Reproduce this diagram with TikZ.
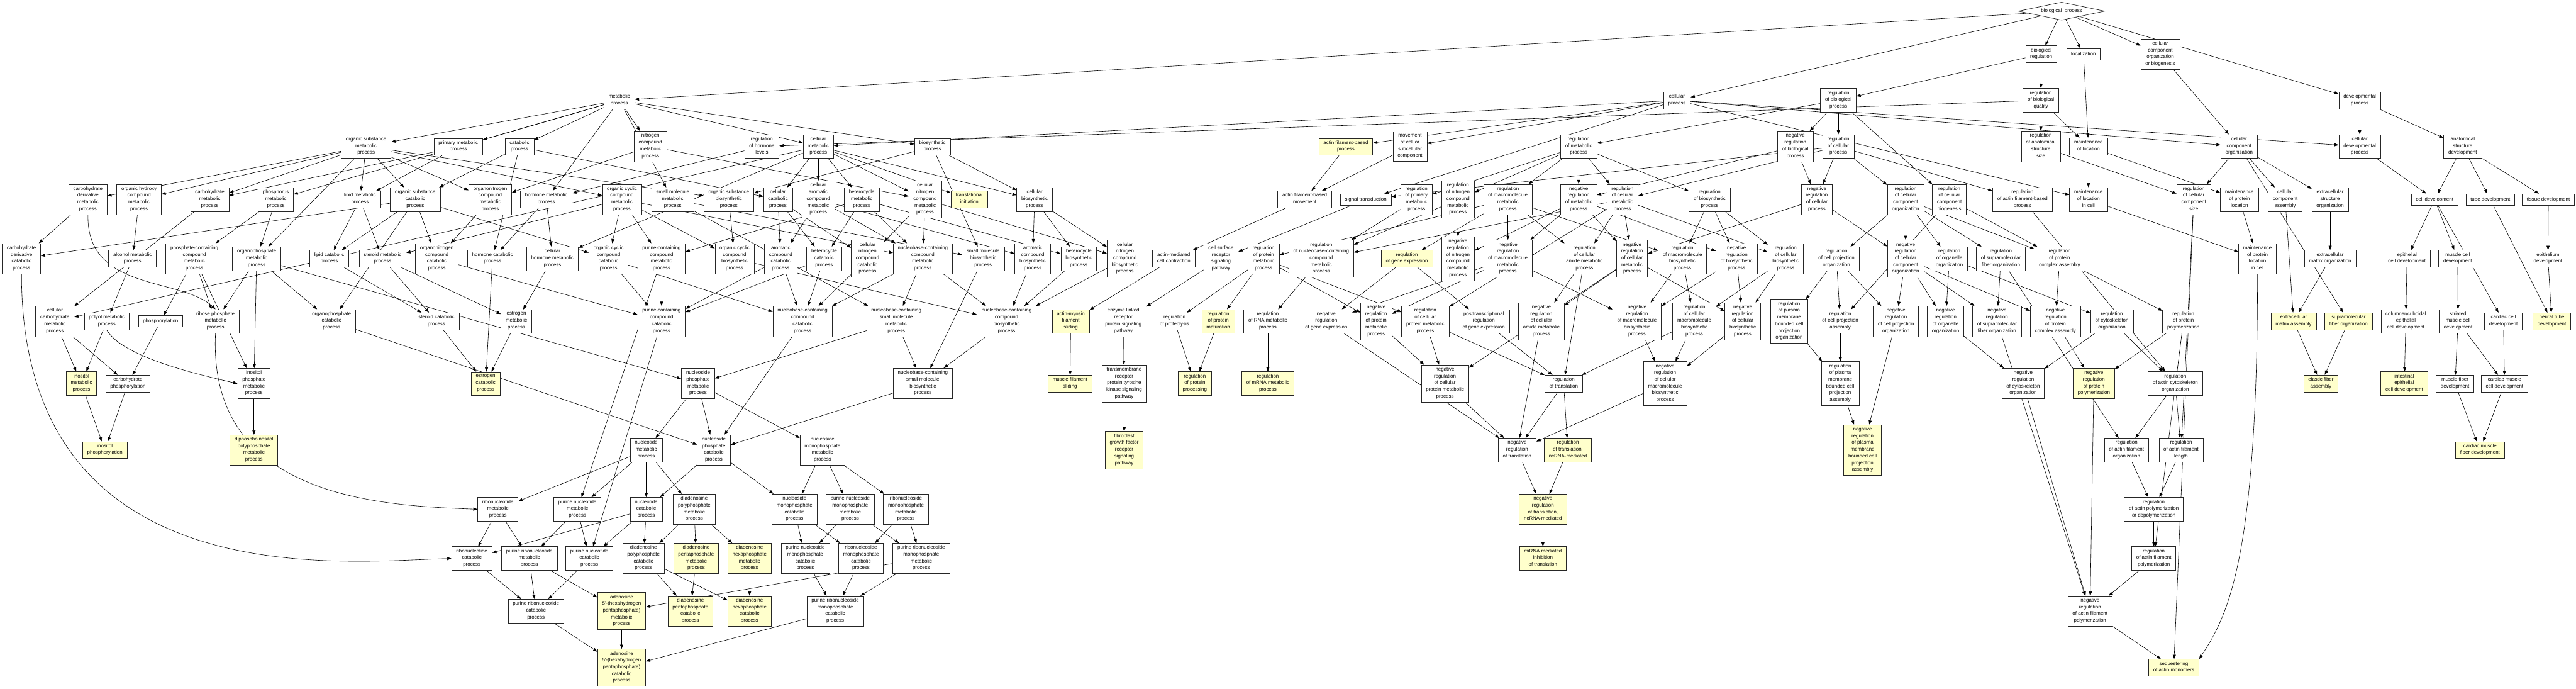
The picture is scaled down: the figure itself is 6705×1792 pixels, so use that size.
\documentclass[tikz,border=0pt]{standalone}
\usepackage{fontspec}
\setmainfont{Liberation Sans}
\usetikzlibrary{arrows.meta,shapes.geometric,backgrounds}
\definecolor{yl}{RGB}{255,255,204}
\begin{document}
\begin{tikzpicture}[x=1pt,y=-1pt,
 t/.style={draw=black!85, line width=1.2pt, fill=white, align=center, inner xsep=12pt, inner ysep=6pt,
   font=\fontsize{13}{17.5}\selectfont, execute at begin node=\strut, execute at end node=\strut},
 yb/.style={t, fill=yl},
 e/.style={-{Triangle[length=11pt,width=8pt]}, line width=1pt, black}]
\useasboundingbox (0,0) rectangle (6705,1792);
% ---------- top ----------
\node[draw=black!85, line width=1.2pt, fill=white, diamond, aspect=4.8, minimum width=225pt, minimum height=47pt, inner sep=0pt, font=\fontsize{13}{17.5}\selectfont] (bp) at (5366,29) {biological\_process};
\node[t] (breg) at (5313,141) {biological\\regulation};
\node[t] (loc) at (5423,141) {localization};
\node[t] (ccob) at (5623,141) {cellular\\component\\organization\\or biogenesis};
% ---------- row 261 ----------
\node[t] (met) at (1612,261) {metabolic\\process};
\node[t] (cp) at (4365,261) {cellular\\process};
\node[t] (rbp) at (4785,261) {regulation\\of biological\\process};
\node[t] (rbq) at (5312,261) {regulation\\of biological\\quality};
\node[t] (dev) at (6142,261) {developmental\\process};
% ---------- row 381 ----------
\node[t] (osm) at (953,381) {organic substance\\metabolic\\process};
\node[t] (prim) at (1193,382) {primary metabolic\\process};
\node[t] (cat) at (1352,382) {catabolic\\process};
\node[t] (ncm) at (1693,381) {nitrogen\\compound\\metabolic\\process};
\node[t] (rhl) at (1983,381) {regulation\\of hormone\\levels};
\node[t] (cellmet) at (2130,381) {cellular\\metabolic\\process};
\node[t] (bios) at (2427,382) {biosynthetic\\process};
\node[yb] (afbp) at (3503,382) {actin filament-based\\process};
\node[t] (mov) at (3670,381) {movement\\of cell or\\subcellular\\component};
\node[t] (rmp) at (4109,381) {regulation\\of metabolic\\process};
\node[t] (nrbp) at (4673,381) {negative\\regulation\\of biological\\process};
\node[t] (rcp) at (4785,381) {regulation\\of cellular\\process};
\node[t] (rass) at (5312,381) {regulation\\of anatomical\\structure\\size};
\node[t] (mloc) at (5436,381) {maintenance\\of location};
\node[t] (cco) at (5828,381) {cellular\\component\\organization};
\node[t] (cdp) at (6142,381) {cellular\\developmental\\process};
\node[t] (asd) at (6410,381) {anatomical\\structure\\development};
% ---------- row 519 ----------
\node[t] (cdm) at (229,519) {carbohydrate\\derivative\\metabolic\\process};
\node[t] (ohcm) at (362,519) {organic hydroxy\\compound\\metabolic\\process};
\node[t] (carbm) at (546,519) {carbohydrate\\metabolic\\process};
\node[t] (phom) at (718,519) {phosphorus\\metabolic\\process};
\node[t] (lipm) at (937,519) {lipid metabolic\\process};
\node[t] (oscat) at (1081,519) {organic substance\\catabolic\\process};
\node[t] (onm) at (1276,519) {organonitrogen\\compound\\metabolic\\process};
\node[t] (hormm) at (1422,519) {hormone metabolic\\process};
\node[t] (occm) at (1619,519) {organic cyclic\\compound\\metabolic\\process};
\node[t] (smm) at (1751,519) {small molecule\\metabolic\\process};
\node[t] (osbio) at (1897,519) {organic substance\\biosynthetic\\process};
\node[t] (ccat) at (2025,519) {cellular\\catabolic\\process};
\node[t] (cacm) at (2130,519) {cellular\\aromatic\\compound\\metabolic\\process};
\node[t] (hetm) at (2243,519) {heterocycle\\metabolic\\process};
\node[t] (cncm) at (2408,519) {cellular\\nitrogen\\compound\\metabolic\\process};
\node[yb] (transl) at (2523,519) {translational\\initiation};
\node[t] (cbio) at (2693,519) {cellular\\biosynthetic\\process};
\node[t] (afbm) at (3396,519) {actin filament-based\\movement};
\node[t] (sig) at (3555,519) {signal transduction};
\node[t] (rpmp) at (3687,519) {regulation\\of primary\\metabolic\\process};
\node[t] (rncm) at (3795,519) {regulation\\of nitrogen\\compound\\metabolic\\process};
\node[t] (rmmp) at (3925,519) {regulation\\of macromolecule\\metabolic\\process};
\node[t] (nrmp) at (4109,519) {negative\\regulation\\of metabolic\\process};
\node[t] (rcmp) at (4223,519) {regulation\\of cellular\\metabolic\\process};
\node[t] (rbio) at (4450,519) {regulation\\of biosynthetic\\process};
\node[t] (nrcp) at (4729,519) {negative\\regulation\\of cellular\\process};
\node[t] (rcco) at (4960,519) {regulation\\of cellular\\component\\organization};
\node[t] (rccb) at (5074,519) {regulation\\of cellular\\component\\biogenesis};
\node[t] (rafb) at (5264,519) {regulation\\of actin filament-based\\process};
\node[t] (mlocc) at (5436,519) {maintenance\\of location\\in cell};
\node[t] (rccs) at (5710,519) {regulation\\of cellular\\component\\size};
\node[t] (mpl) at (5829,519) {maintenance\\of protein\\location};
\node[t] (cca) at (5948,519) {cellular\\component\\assembly};
\node[t] (eso) at (6065,519) {extracellular\\structure\\organization};
\node[t] (celldev) at (6337,519) {cell development};
\node[t] (tubed) at (6482,519) {tube development};
\node[t] (tissd) at (6633,519) {tissue development};
% ---------- row 673 ----------
\node[t] (cdc) at (56,673) {carbohydrate\\derivative\\catabolic\\process};
\node[t] (alc) at (345,673) {alcohol metabolic\\process};
\node[t] (pcc) at (506,673) {phosphate-containing\\compound\\metabolic\\process};
\node[t] (opm) at (668,673) {organophosphate\\metabolic\\process};
\node[t] (lipc) at (857,673) {lipid catabolic\\process};
\node[t] (stm) at (996,673) {steroid metabolic\\process};
\node[t] (oncat) at (1137,673) {organonitrogen\\compound\\catabolic\\process};
\node[t] (hormc) at (1282,673) {hormone catabolic\\process};
\node[t] (chm) at (1438,673) {cellular\\hormone metabolic\\process};
\node[t] (occc) at (1584,673) {organic cyclic\\compound\\catabolic\\process};
\node[t] (pccm) at (1722,673) {purine-containing\\compound\\metabolic\\process};
\node[t] (occb) at (1912,673) {organic cyclic\\compound\\biosynthetic\\process};
\node[t] (acc) at (2032,673) {aromatic\\compound\\catabolic\\process};
\node[t] (hetc) at (2145,673) {heterocycle\\catabolic\\process};
\node[t] (cncc) at (2258,673) {cellular\\nitrogen\\compound\\catabolic\\process};
\node[t] (nbcm) at (2402,673) {nucleobase-containing\\compound\\metabolic\\process};
\node[t] (smb) at (2559,673) {small molecule\\biosynthetic\\process};
\node[t] (acb) at (2688,673) {aromatic\\compound\\biosynthetic\\process};
\node[t] (hetb) at (2808,673) {heterocycle\\biosynthetic\\process};
\node[t] (cncb) at (2928,673) {cellular\\nitrogen\\compound\\biosynthetic\\process};
\node[t] (amcc) at (3055,673) {actin-mediated\\cell contraction};
\node[t] (csr) at (3178,673) {cell surface\\receptor\\signaling\\pathway};
\node[t] (rprot) at (3289,673) {regulation\\of protein\\metabolic\\process};
\node[t] (rnbc) at (3439,673) {regulation\\of nucleobase-containing\\compound\\metabolic\\process};
\node[yb] (rge) at (3662,673) {regulation\\of gene expression};
\node[t] (nrncm) at (3795,673) {negative\\regulation\\of nitrogen\\compound\\metabolic\\process};
\node[t] (nrmm) at (3925,673) {negative\\regulation\\of macromolecule\\metabolic\\process};
\node[t] (rcam) at (4124,673) {regulation\\of cellular\\amide metabolic\\process};
\node[t] (nrcm) at (4248,673) {negative\\regulation\\of cellular\\metabolic\\process};
\node[t] (rmb) at (4379,673) {regulation\\of macromolecule\\biosynthetic\\process};
\node[t] (nrb) at (4520,673) {negative\\regulation\\of biosynthetic\\process};
\node[t] (rcb) at (4648,673) {regulation\\of cellular\\biosynthetic\\process};
\node[t] (rcpo) at (4780,673) {regulation\\of cell projection\\organization};
\node[t] (nrcco) at (4960,673) {negative\\regulation\\of cellular\\component\\organization};
\node[t] (roo) at (5074,673) {regulation\\of organelle\\organization};
\node[t] (rsfo) at (5208,673) {regulation\\of supramolecular\\fiber organization};
\node[t] (rpca) at (5361,673) {regulation\\of protein\\complex assembly};
\node[t] (mplc) at (5876,673) {maintenance\\of protein\\location\\in cell};
\node[t] (emo) at (6065,673) {extracellular\\matrix organization};
\node[t] (epcd) at (6265,673) {epithelial\\cell development};
\node[t] (mcd) at (6397,673) {muscle cell\\development};
\node[t] (epid) at (6632,673) {epithelium\\development};
% ---------- row 836 ----------
\node[t] (ccm) at (143,836) {cellular\\carbohydrate\\metabolic\\process};
\node[t] (polyol) at (278,836) {polyol metabolic\\process};
\node[t] (phos) at (418,836) {phosphorylation};
\node[t] (rpm) at (561,836) {ribose phosphate\\metabolic\\process};
\node[t] (opc) at (863,836) {organophosphate\\catabolic\\process};
\node[t] (stc) at (1136,836) {steroid catabolic\\process};
\node[t] (estm) at (1344,836) {estrogen\\metabolic\\process};
\node[t] (pccc) at (1722,836) {purine-containing\\compound\\catabolic\\process};
\node[t] (nbcc) at (2089,836) {nucleobase-containing\\compound\\catabolic\\process};
\node[t] (nbsm) at (2333,836) {nucleobase-containing\\small molecule\\metabolic\\process};
\node[t] (nbcb) at (2620,836) {nucleobase-containing\\compound\\biosynthetic\\process};
\node[yb] (ams) at (2787,836) {actin-myosin\\filament\\sliding};
\node[t] (elr) at (2924,836) {enzyme linked\\receptor\\protein signaling\\pathway};
\node[t] (rprl) at (3057,836) {regulation\\of proteolysis};
\node[yb] (rpmat) at (3171,836) {regulation\\of protein\\maturation};
\node[t] (rrna) at (3300,836) {regulation\\of RNA metabolic\\process};
\node[t] (nrge) at (3452,836) {negative\\regulation\\of gene expression};
\node[t] (nrpm) at (3582,836) {negative\\regulation\\of protein\\metabolic\\process};
\node[t] (rcpm) at (3710,836) {regulation\\of cellular\\protein metabolic\\process};
\node[t] (ptr) at (3862,836) {posttranscriptional\\regulation\\of gene expression};
\node[t] (nrcam) at (4012,836) {negative\\regulation\\of cellular\\amide metabolic\\process};
\node[t] (nrmb) at (4261,836) {negative\\regulation\\of macromolecule\\biosynthetic\\process};
\node[t] (rcmb) at (4410,836) {regulation\\of cellular\\macromolecule\\biosynthetic\\process};
\node[t] (nrcb) at (4536,836) {negative\\regulation\\of cellular\\biosynthetic\\process};
\node[t] (rpmcpo) at (4657,836) {regulation\\of plasma\\membrane\\bounded cell\\projection\\organization};
\node[t] (rcpa) at (4790,836) {regulation\\of cell projection\\assembly};
\node[t] (nrcpo) at (4935,836) {negative\\regulation\\of cell projection\\organization};
\node[t] (nroo) at (5064,836) {negative\\regulation\\of organelle\\organization};
\node[t] (nrsfo) at (5198,836) {negative\\regulation\\of supramolecular\\fiber organization};
\node[t] (nrpca) at (5350,836) {negative\\regulation\\of protein\\complex assembly};
\node[t] (rco) at (5497,836) {regulation\\of cytoskeleton\\organization};
\node[t] (rpp) at (5683,836) {regulation\\of protein\\polymerization};
\node[yb] (ema) at (5970,836) {extracellular\\matrix assembly};
\node[yb] (sfo) at (6113,836) {supramolecular\\fiber organization};
\node[t] (ccecd) at (6262,836) {columnar/cuboidal\\epithelial\\cell development};
\node[t] (smcd) at (6398,836) {striated\\muscle cell\\development};
\node[t] (ccd) at (6516,836) {cardiac cell\\development};
\node[yb] (ntd) at (6642,836) {neural tube\\development};
% ---------- row 998 ----------
\node[yb] (inom) at (212,998) {inositol\\metabolic\\process};
\node[t] (cphos) at (333,998) {carbohydrate\\phosphorylation};
\node[t] (ipm) at (661,998) {inositol\\phosphate\\metabolic\\process};
\node[yb] (estc) at (1264,998) {estrogen\\catabolic\\process};
\node[t] (npm) at (1817,998) {nucleoside\\phosphate\\metabolic\\process};
\node[t] (nbsb) at (2402,998) {nucleobase-containing\\small molecule\\biosynthetic\\process};
\node[yb] (mfs) at (2785,998) {muscle filament\\sliding};
\node[t] (rtk) at (2926,998) {transmembrane\\receptor\\protein tyrosine\\kinase signaling\\pathway};
\node[yb] (rpproc) at (3110,998) {regulation\\of protein\\processing};
\node[yb] (rmrna) at (3300,998) {regulation\\of mRNA metabolic\\process};
\node[t] (nrcpm) at (3761,998) {negative\\regulation\\of cellular\\protein metabolic\\process};
\node[t] (rtrans) at (4070,998) {regulation\\of translation};
\node[t] (nrcmb) at (4334,998) {negative\\regulation\\of cellular\\macromolecule\\biosynthetic\\process};
\node[t] (rpmcpa) at (4790,998) {regulation\\of plasma\\membrane\\bounded cell\\projection\\assembly};
\node[t] (nrco) at (5266,998) {negative\\regulation\\of cytoskeleton\\organization};
\node[yb] (nrpp) at (5450,998) {negative\\regulation\\of protein\\polymerization};
\node[t] (raco) at (5662,998) {regulation\\of actin cytoskeleton\\organization};
\node[yb] (efa) at (6041,998) {elastic fiber\\assembly};
\node[yb] (iecd) at (6258,998) {intestinal\\epithelial\\cell development};
\node[t] (mfd) at (6390,998) {muscle fiber\\development};
\node[t] (cmcd) at (6519,998) {cardiac muscle\\cell development};
% ---------- row 1171 ----------
\node[yb] (inop) at (273,1171) {inositol\\phosphorylation};
\node[yb] (dipp) at (661,1171) {diphosphoinositol\\polyphosphate\\metabolic\\process};
\node[t] (ntm) at (1682,1171) {nucleotide\\metabolic\\process};
\node[t] (npc) at (1858,1171) {nucleoside\\phosphate\\catabolic\\process};
\node[t] (nmpm) at (2141,1171) {nucleoside\\monophosphate\\metabolic\\process};
\node[yb] (fgf) at (2926,1171) {fibroblast\\growth factor\\receptor\\signaling\\pathway};
\node[t] (nrtrans) at (3949,1171) {negative\\regulation\\of translation};
\node[yb] (rtnc) at (4081,1171) {regulation\\of translation,\\ncRNA-mediated};
\node[yb] (nrpmcpa) at (4848,1171) {negative\\regulation\\of plasma\\membrane\\bounded cell\\projection\\assembly};
\node[t] (rafo) at (5535,1171) {regulation\\of actin filament\\organization};
\node[t] (rafl) at (5677,1171) {regulation\\of actin filament\\length};
\node[yb] (cmfd) at (6455,1171) {cardiac muscle\\fiber development};
% ---------- row 1325 ----------
\node[t] (rnm) at (1296,1325) {ribonucleotide\\metabolic\\process};
\node[t] (pnm) at (1503,1325) {purine nucleotide\\metabolic\\process};
\node[t] (ntc) at (1682,1325) {nucleotide\\catabolic\\process};
\node[t] (dapm) at (1807,1325) {diadenosine\\polyphosphate\\metabolic\\process};
\node[t] (nmpc) at (2068,1325) {nucleoside\\monophosphate\\catabolic\\process};
\node[t] (pnmpm) at (2213,1325) {purine nucleoside\\monophosphate\\metabolic\\process};
\node[t] (rnmpm) at (2358,1325) {ribonucleoside\\monophosphate\\metabolic\\process};
\node[yb] (nrtnc) at (4016,1325) {negative\\regulation\\of translation,\\ncRNA-mediated};
\node[t] (rapd) at (5606,1325) {regulation\\of actin polymerization\\or depolymerization};
% ---------- row 1453 ----------
\node[t] (rnc) at (1228,1453) {ribonucleotide\\catabolic\\process};
\node[t] (prnm) at (1378,1453) {purine ribonucleotide\\metabolic\\process};
\node[t] (pnc) at (1534,1453) {purine nucleotide\\catabolic\\process};
\node[t] (dapc) at (1675,1453) {diadenosine\\polyphosphate\\catabolic\\process};
\node[yb] (dpentm) at (1812,1453) {diadenosine\\pentaphosphate\\metabolic\\process};
\node[yb] (dhexm) at (1951,1453) {diadenosine\\hexaphosphate\\metabolic\\process};
\node[t] (pnmpc) at (2096,1453) {purine nucleoside\\monophosphate\\catabolic\\process};
\node[t] (rnmpc) at (2241,1453) {ribonucleoside\\monophosphate\\catabolic\\process};
\node[t] (prnmpm) at (2398,1453) {purine ribonucleoside\\monophosphate\\metabolic\\process};
\node[yb] (mirna) at (4016,1453) {miRNA mediated\\inhibition\\of translation};
\node[t] (rafp) at (5606,1453) {regulation\\of actin filament\\polymerization};
% ---------- row 1590 ----------
\node[t] (prnc) at (1395,1590) {purine ribonucleotide\\catabolic\\process};
\node[yb] (a5m) at (1618,1590) {adenosine\\5'-(hexahydrogen\\pentaphosphate)\\metabolic\\process};
\node[yb] (dpentc) at (1797,1590) {diadenosine\\pentaphosphate\\catabolic\\process};
\node[yb] (dhexc) at (1951,1590) {diadenosine\\hexaphosphate\\catabolic\\process};
\node[t] (prnmpc) at (2174,1590) {purine ribonucleoside\\monophosphate\\catabolic\\process};
\node[t] (nrafp) at (5440,1590) {negative\\regulation\\of actin filament\\polymerization};
% ---------- row 1737 ----------
\node[yb] (a5c) at (1618,1737) {adenosine\\5'-(hexahydrogen\\pentaphosphate)\\catabolic\\process};
\node[yb] (seq) at (5658,1737) {sequestering\\of actin monomers};
% ---------- edges ----------
\begin{pgfonlayer}{background}
\fill[white] (0,0) rectangle (6705,1792);
% long curved connectors
\draw[e] (cdc.south) .. controls (56,1560) and (900,1460) .. (rnc.west);
\draw[e] (rpm.south) .. controls (540,1300) and (1000,1315) .. (rnm.west);
\draw[e] (mplc.south) .. controls (5876,1450) and (5800,1600) .. (seq.north east);
\draw[e] (cdm.south) .. controls (225,760) and (470,720) .. (rpm.north);
\draw[e] (polyol.south) .. controls (320,930) and (520,975) .. (ipm.west);
\foreach \a/\b in {bp/met, bp/cp, bp/breg, bp/loc, bp/ccob, bp/dev,
 breg/rbp, breg/rbq,
 met/prim, met/cat, met/ncm, met/osm, met/cellmet, met/bios, met/hormm, met/smm, met/phom,
 cp/cellmet, cp/afbp, cp/mov, cp/sig, cp/cdp, cp/mlocc, cp/cco,
 rbq/rhl, rbq/rass, rbq/mloc, loc/mloc,
 rbp/nrbp, rbp/rcp, rbp/rmp, rbp/rccb,
 ccob/cco, dev/cdp, dev/asd,
 osm/cdm, osm/ohcm, osm/carbm, osm/lipm, osm/oscat, osm/onm, osm/occm, osm/osbio, osm/opm,
 prim/carbm, prim/lipm,
 cat/oscat, cat/ccat, cat/hormc,
 ncm/onm, ncm/cncm, rhl/hormm,
 cellmet/ccat, cellmet/cacm, cellmet/hetm, cellmet/cncm, cellmet/transl, cellmet/cbio, cellmet/chm, cellmet/ccm,
 bios/osbio, bios/cbio, bios/smb,
 cdm/cdc,
 oscat/cdc, oscat/lipc, oscat/oncat, oscat/opc, oscat/occc,
 ohcm/alc, carbm/ccm, phom/pcc, phom/opm,
 lipm/lipc, lipm/stm, occm/stm, onm/oncat,
 hormm/hormc, hormm/chm,
 occm/occc, occm/pccm, occm/occb, occm/nbcm,
 smm/smb, smm/nbsm, osbio/occb,
 ccat/acc, ccat/hetc, ccat/cncc,
 cacm/acc, cacm/acb, cacm/nbcm,
 hetm/hetc, hetm/hetb, hetm/nbcm, hetm/pccm,
 cncm/nbcm, cncm/cncb, cncm/cncc,
 cbio/acb, cbio/hetb, cbio/cncb,
 alc/polyol, pcc/phos, pcc/rpm, pcc/ipm,
 opm/rpm, opm/ipm, opm/opc, opm/npm,
 lipc/stc, stm/stc, stm/estm, oncat/pccc, chm/estm,
 hormc/estc, estm/estc, stc/estc,
 occc/pccc, occc/nbcc, pccm/pccc, pccm/pnm, occb/nbcb,
 acc/pccc, acc/nbcc, hetc/pccc, hetc/nbcc, cncc/nbcc,
 nbcm/nbsm, nbcm/nbcb, nbcm/nbcc,
 smb/nbsb, acb/nbcb, hetb/nbcb, cncb/nbcb,
 nbsm/nbsb, nbcb/nbsb, nbsm/npm,
 ccm/inom, ccm/cphos, polyol/inom, phos/cphos,
 inom/inop, cphos/inop, ipm/dipp,
 opc/npc, nbcc/npc, nbsb/npc, pccc/pnc,
 npm/ntm, npm/npc, npm/nmpm,
 ntm/rnm, ntm/pnm, ntm/ntc, ntm/dapm,
 npc/ntc, npc/nmpc,
 nmpm/nmpc, nmpm/pnmpm, nmpm/rnmpm,
 rnm/rnc, rnm/prnm, pnm/prnm, pnm/pnc,
 ntc/rnc, ntc/pnc, ntc/dapc,
 dapm/dapc, dapm/dpentm, dapm/dhexm,
 nmpc/pnmpc, nmpc/rnmpc,
 pnmpm/pnmpc, pnmpm/prnmpm, rnmpm/rnmpc, rnmpm/prnmpm,
 rnc/prnc, prnm/prnc, pnc/prnc, prnm/a5m, prnmpm/a5m,
 dapc/dpentc, dapc/dhexc, dpentm/dpentc, dhexm/dhexc,
 pnmpc/prnmpc, rnmpc/prnmpc, prnmpm/prnmpc,
 prnc/a5c, a5m/a5c, prnmpc/a5c,
 afbp/afbm, mov/afbm, rcp/sig,
 afbm/amcc, sig/csr, rmmp/rprot,
 amcc/ams, csr/elr, rprot/rprl, rprot/rpmat, rnbc/rrna,
 ams/mfs, elr/rtk, rprl/rpproc, rpmat/rpproc, rrna/rmrna, rtk/fgf,
 rmp/rpmp, rmp/rncm, rmp/rmmp, rmp/nrmp, rmp/rcmp, rmp/rbio,
 nrbp/nrmp, nrbp/nrcp, rcp/nrcp, rcp/rcmp, rcp/rcco, rcp/rafb,
 mloc/mlocc,
 rpmp/rnbc, rncm/rnbc, rcmp/rnbc,
 rmmp/rge, rncm/nrncm, nrmp/nrncm, rmmp/nrmm, nrmp/nrmm,
 rcmp/rcam, rmmp/rcam,
 rcmp/nrcm, nrmp/nrcm, nrcp/nrcm,
 rbio/rmb, rmmp/rmb, rbio/nrb, nrmp/nrb, rbio/rcb, rcmp/rcb,
 rge/nrge, nrmm/nrge, rprot/nrpm, nrmm/nrpm, rprot/rcpm, rcmp/rcpm, rge/ptr,
 rcam/nrcam, nrcm/nrcam,
 rmb/nrmb, nrmm/nrmb, nrb/nrmb,
 rmb/rcmb, rcb/rcmb,
 nrb/nrcb, rcb/nrcb, nrcm/nrcb,
 nrpm/nrcpm, rcpm/nrcpm, nrcm/nrcpm,
 rcam/rtrans, ptr/rtrans, rcmb/rtrans, rcpm/rtrans,
 rcmb/nrcmb, nrmb/nrcmb, nrcb/nrcmb,
 rtrans/nrtrans, nrcpm/nrtrans, nrcmb/nrtrans, nrcam/nrtrans, nrge/nrtrans,
 rtrans/rtnc, nrtrans/nrtnc, rtnc/nrtnc, nrtnc/mirna,
 rass/rccs, cco/rccs, mloc/mpl, cco/cca, cco/eso, cco/sfo,
 cdp/celldev, asd/celldev, asd/tubed, asd/tissd,
 mpl/mplc, mlocc/mplc, eso/emo,
 celldev/epcd, celldev/mcd, celldev/ccd, tissd/epid,
 rpca/rpp, cca/ema, emo/ema,
 epcd/ccecd, mcd/smcd, tubed/ntd, epid/ntd,
 ema/efa, sfo/efa,
 ccecd/iecd, smcd/mfd, smcd/cmcd, ccd/cmcd, mfd/cmfd, cmcd/cmfd,
 nrafp/seq, rccs/seq,
 rcco/rcpo, rcco/nrcco, nrcp/nrcco, rcco/roo, rcco/rsfo, rcco/rpca, rccb/rpca,
 rcpo/rpmcpo, rcpo/rcpa, rccb/rcpa, rcpo/nrcpo, nrcco/nrcpo,
 roo/nroo, nrcco/nroo, rsfo/nrsfo, nrcco/nrsfo, rpca/nrpca, nrcco/nrpca,
 roo/rco,
 rpmcpo/rpmcpa, rcpa/rpmcpa, rpmcpa/nrpmcpa, nrcpo/nrpmcpa,
 rco/nrco, nroo/nrco,
 nrpca/nrpp, rpp/nrpp,
 rco/raco, rafb/raco,
 raco/rafo, rsfo/rafo,
 raco/rafl, rccs/rafl,
 rafl/rapd, rafo/rapd,
 rapd/rafp, rpp/rafp,
 rafp/nrafp, nrco/nrafp, nrpp/nrafp, nrsfo/nrafp}
 \draw[e] (\a) -- (\b);
\end{pgfonlayer}
\end{tikzpicture}
\end{document}
